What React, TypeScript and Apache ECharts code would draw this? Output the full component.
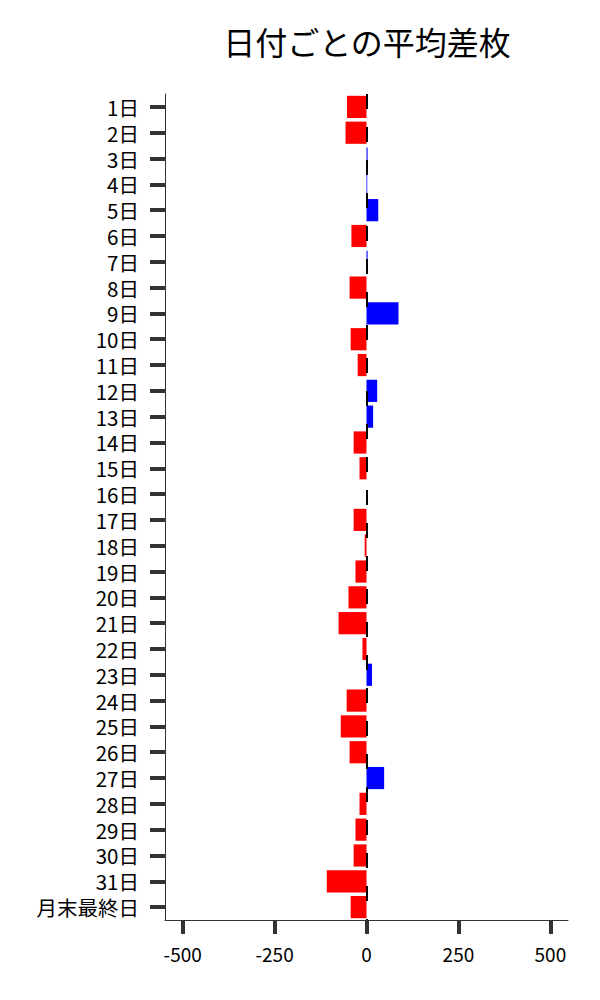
import React, { useEffect, useRef } from "react";
import * as echarts from "echarts";

const categories = [
  "1日","2日","3日","4日","5日","6日","7日","8日","9日","10日",
  "11日","12日","13日","14日","15日","16日","17日","18日","19日","20日",
  "21日","22日","23日","24日","25日","26日","27日","28日","29日","30日",
  "31日","月末最終日",
];
const values = [
  -53, -57, 3, 2, 32, -41, 3, -46, 87, -43,
  -24, 29, 18, -35, -19, 0, -35, -5, -30, -49,
  -76, -11, 15, -54, -70, -46, 48, -19, -30, -35,
  -108, -43,
];
const xTicks = [-500, -250, 0, 250, 500];
const titleText = "日付ごとの平均差枚";

export default function App() {
  const ref = useRef<HTMLDivElement>(null);
  useEffect(() => {
    if (!ref.current) return;
    const chart = echarts.init(ref.current, null, { renderer: "svg" });
    const font = "'Noto Sans CJK JP', 'Noto Sans', sans-serif";
    chart.setOption({
      animation: false,
      textStyle: { fontFamily: font },
      title: {
        text: titleText,
        left: 354,
        textAlign: "center",
        top: 12,
        textStyle: { fontSize: 32, fontWeight: "normal", color: "#000", fontFamily: font },
      },
      grid: { left: 157, right: 24, top: 86, bottom: 72, containLabel: false },
      xAxis: {
        type: "value",
        min: -548,
        max: 548,
        splitLine: { show: false },
        axisLine: { show: true, onZero: false, lineStyle: { color: "#333", width: 1 } },
        axisTick: { show: true, length: 14, lineStyle: { color: "#333", width: 4 }, customValues: xTicks },
        axisLabel: { color: "#000", fontSize: 19, margin: 24, customValues: xTicks, fontFamily: font },
      },
      yAxis: {
        type: "category",
        data: categories,
        inverse: true,
        axisLine: { show: true, onZero: false, lineStyle: { color: "#333", width: 1 } },
        axisTick: { show: true, alignWithLabel: true, interval: 0, length: 15, lineStyle: { color: "#333", width: 4 } },
        axisLabel: { color: "#000", fontSize: 20.5, lineHeight: 22, margin: 26, interval: 0, fontFamily: font },
        splitLine: { show: false },
      },
      series: [
        {
          type: "bar",
          data: values,
          barCategoryGap: "14%",
          itemStyle: {
            color: (p: any) => (p.value >= 0 ? "#0000ff" : "#ff0000"),
          },
          markLine: {
            silent: true,
            symbol: "none",
            label: { show: false },
            lineStyle: { color: "#000", width: 2, type: [15, 18], dashOffset: 0 },
            data: [{ xAxis: 0 }],
          },
        },
      ],
    });
    return () => chart.dispose();
  }, []);
  return <div ref={ref} style={{ width: 584, height: 984 }} />;
}
